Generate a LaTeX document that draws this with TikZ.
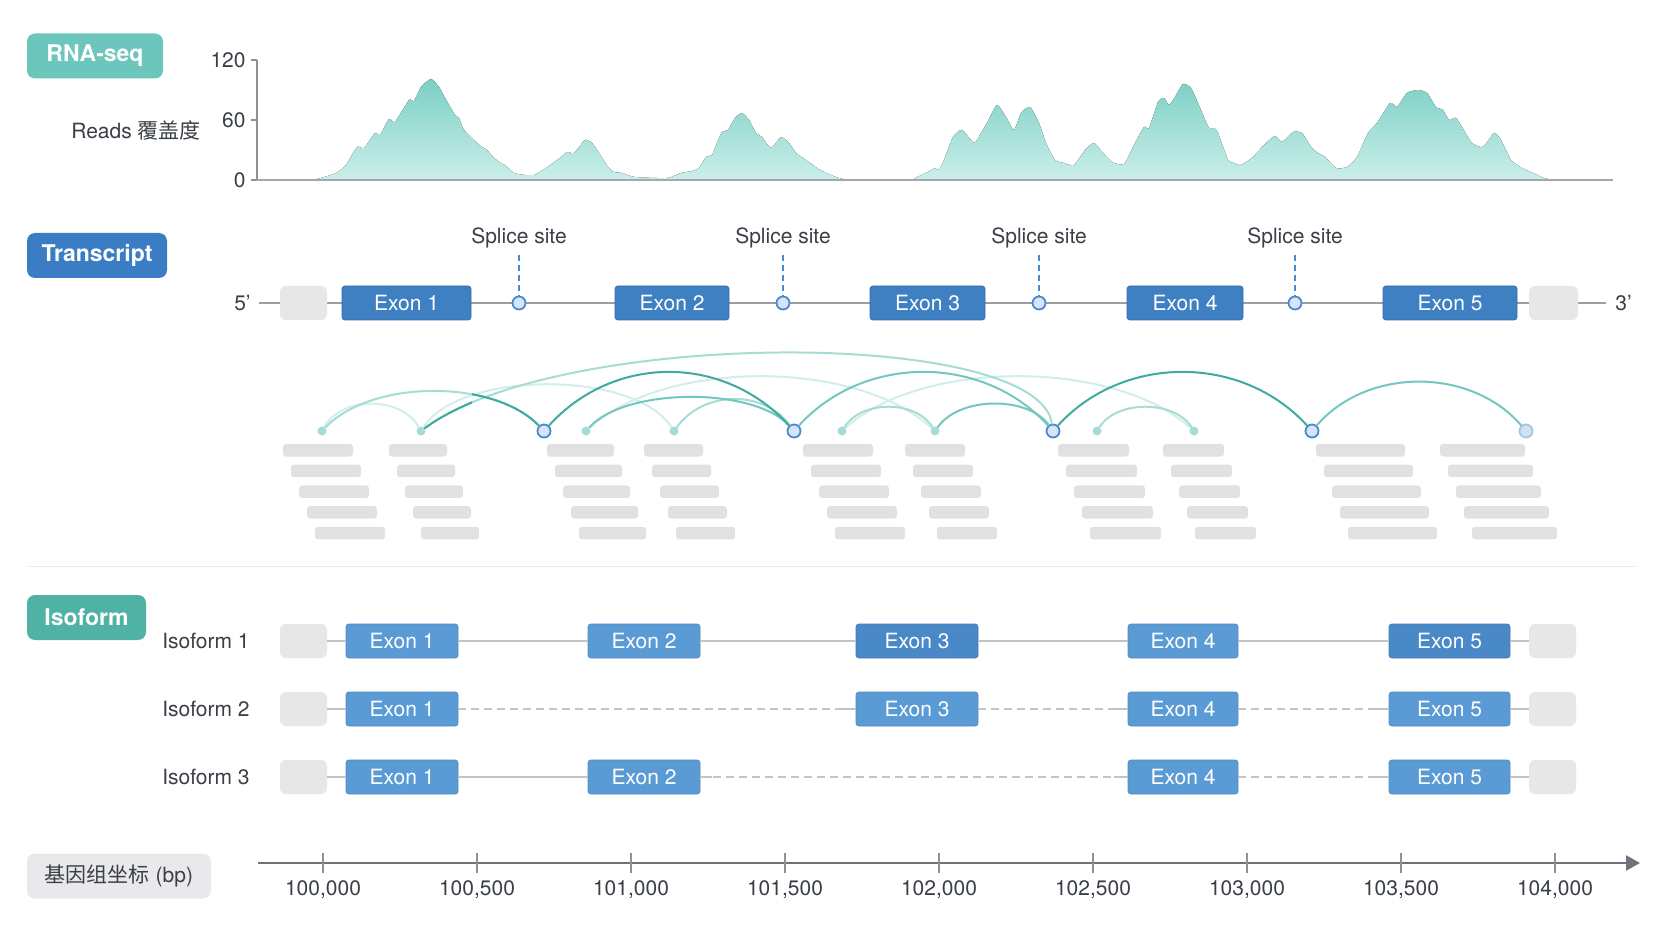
\documentclass[tikz,border=0pt]{standalone}
\usepackage{fontspec}
\setmainfont{TeX Gyre Heros}
\newfontfamily\cjk{Noto Sans CJK SC}
\usetikzlibrary{positioning, calc, arrows.meta}
\definecolor{txtdark}{HTML}{3A3F47}
\definecolor{rnateal}{HTML}{6CC6BB}
\definecolor{isoteal}{HTML}{50B1A5}
\definecolor{trblue}{HTML}{3B7DC4}
\definecolor{exonblue}{HTML}{3F80C2}
\definecolor{exonedge}{HTML}{336FAE}
\definecolor{isoblue}{HTML}{5B9BD5}
\definecolor{isoblueB}{HTML}{4A89C8}
\definecolor{utrgrey}{HTML}{E7E7E8}
\definecolor{linegrey}{HTML}{9C9EA2}
\definecolor{intrgrey}{HTML}{C2C3C5}
\definecolor{readgrey}{HTML}{E1E1E3}
\definecolor{covtop}{HTML}{7CCFC5}
\definecolor{covbot}{HTML}{CBEFEA}
\definecolor{axgrey}{HTML}{8E9196}
\definecolor{jdark}{HTML}{3FAA9E}
\definecolor{jmid}{HTML}{72C8BE}
\definecolor{jlight}{HTML}{A6DCD5}
\definecolor{jfaint}{HTML}{D2EEEA}
\definecolor{siteblue}{HTML}{4A8AD0}
\definecolor{sitefill}{HTML}{D5E5F5}
\definecolor{gaxcol}{HTML}{6E737B}
\definecolor{gboxgrey}{HTML}{E9E9EB}
\tikzset{
  secbox/.style={rounded corners=4pt, text=white, inner sep=0pt, minimum height=22.5pt, font=\bfseries\fontsize{11.5}{13}\selectfont},
  lab/.style={text=txtdark, inner sep=1pt, font=\fontsize{10.5}{12}\selectfont},
  exonT/.style={draw=exonedge, fill=exonblue, line width=0.4pt, rounded corners=1.5pt, minimum height=17pt, inner sep=0pt, text=white, font=\fontsize{10.5}{12}\selectfont},
  exonI/.style={exonT, draw=isoblue!90!black, fill=isoblue},
  exonIB/.style={exonT, draw=isoblueB!90!black, fill=isoblueB},
  utr/.style={fill=utrgrey, rounded corners=3pt, minimum height=17pt, inner sep=0pt},
  backbone/.style={draw=linegrey, line width=1pt},
  intron/.style={draw=intrgrey, line width=1pt},
  skipline/.style={draw=intrgrey, line width=1pt, dash pattern=on 4pt off 2.5pt},
  ssite/.style={circle, draw=siteblue, fill=sitefill, line width=0.9pt, minimum size=6.5pt, inner sep=0pt},
  ssdash/.style={draw=siteblue, line width=0.8pt, dash pattern=on 3pt off 2pt},
  jdot/.style={circle, fill=jlight, minimum size=4.5pt, inner sep=0pt},
  jsite/.style={circle, draw=siteblue, fill=sitefill, line width=0.9pt, minimum size=6.5pt, inner sep=0pt},
  jend/.style={circle, draw=siteblue!50, fill=siteblue!25, line width=0.9pt, minimum size=6.5pt, inner sep=0pt},
  junc/.style={line width=1pt, line cap=round},
  readbar/.style={fill=readgrey, rounded corners=1.5pt}
}
\begin{document}
\begin{tikzpicture}[x=0.5pt, y=-0.5pt]
% sfondo
\fill[white] (0,0) rectangle (1672,941);
\useasboundingbox (0,0) rectangle (1672,941);

% etichette sezioni
\node[secbox, fill=rnateal, minimum width=68pt] (rnaseq) at (95,56) {RNA-seq};
\node[secbox, fill=trblue, minimum width=70pt] (transcr) at (97,255.5) {Transcript};
\node[secbox, fill=isoteal, minimum width=59.5pt] (isoform) at (86.5,617.5) {Isoform};
\node[secbox, fill=gboxgrey, text=txtdark, font=\fontsize{10.5}{12}\selectfont, minimum width=92pt] (gcoord) at (119,876) {{\cjk 基因组坐标} (bp)};

% copertura reads
\fill[top color=covtop, bottom color=covbot] (300,180) -- plot[smooth, tension=0.35] coordinates {(314,179.5) (321,178) (336,173) (346,165) (357,147) (364,148) (375,133) (380,135) (389,119) (395,122) (409,100) (414,101) (421,87) (431,79) (439,87) (445,98) (455,115) (459,118) (464,130) (479,145) (487,150) (493,157) (502,164) (505,165) (514,173) (525,175) (534,175) (543,170) (560,158) (567,152) (574,153) (585,140) (592,143) (599,153) (608,167) (614,172) (622,173) (635,177) (667,178) (681,173) (692,171) (699,168) (706,157) (712,155) (717,143) (722,132) (728,130) (735,118) (742,113) (749,120) (756,133) (762,137) (771,148) (781,137) (789,143) (796,153) (803,158) (810,163) (817,168) (824,172) (831,175) (839,178) (850,179.5) (910,179.5) (917,177) (928,172) (935,168) (939,170) (944,160) (953,137) (962,130) (974,143) (981,133) (987,123) (997,105) (1006,117) (1014,130) (1021,113) (1030,107) (1039,123) (1046,143) (1055,160) (1064,163) (1074,165) (1085,150) (1094,143) (1103,153) (1112,162) (1124,164) (1135,143) (1144,127) (1149,128) (1158,102) (1164,98) (1169,105) (1175,97) (1183,84) (1191,88) (1198,103) (1203,115) (1209,128) (1214,128) (1218,133) (1228,160) (1234,163) (1241,165) (1253,157) (1264,145) (1275,136) (1282,142) (1293,132) (1302,133) (1311,147) (1318,153) (1325,157) (1336,168) (1347,167) (1357,157) (1368,133) (1377,123) (1390,103) (1397,107) (1407,93) (1418,90) (1427,93) (1436,107) (1443,110) (1449,120) (1456,118) (1465,132) (1472,143) (1483,147) (1494,133) (1501,140) (1511,160) (1522,168) (1533,173) (1544,178) (1551,179.5)} -- (1560,180) -- cycle;

% asse y copertura
\draw[axgrey, line width=0.7pt] (257,60) -- (257,180);
\foreach \v/\y in {120/60,60/120,0/180} {
  \draw[axgrey, line width=0.7pt] (251,\y) -- (257,\y);
  \node[lab, anchor=east] (ylab\v) at (248,\y) {\v};
}
\draw[axgrey!80, line width=1pt] (257,180) -- (1613,180);
\node[lab, anchor=east] (ylabel) at (203,130) {Reads {\cjk 覆盖度}};

% trascritto
\coordinate (p5) at (259,303);
\coordinate (p3) at (1606,303);
\draw[backbone] (p5) -- (p3);
\node[lab, anchor=east] (lab5) at (253,303) {5’};
\node[lab, anchor=west] (lab3) at (1613,303) {3’};
\node[utr, minimum width=23.5pt] (tL) at (303.5,303) {};
\node[exonT, minimum width=64.5pt] (t1) at (406.5,303) {Exon 1};
\node[exonT, minimum width=57pt] (t2) at (672,303) {Exon 2};
\node[exonT, minimum width=57.5pt] (t3) at (927.5,303) {Exon 3};
\node[exonT, minimum width=58pt] (t4) at (1185,303) {Exon 4};
\node[exonT, minimum width=67pt] (t5) at (1450,303) {Exon 5};
\node[utr, minimum width=24.5pt] (tR) at (1553.5,303) {};

% siti di splicing
\foreach \s/\x in {1/519,2/783,3/1039,4/1295} {
  \node[ssite] (ss\s) at (\x,303) {};
  \coordinate (sstop\s) at (\x,255);
  \draw[ssdash] (sstop\s) -- (ss\s);
  \node[lab] (sslab\s) at (\x,238) {Splice site};
}

% reads allineati
\foreach \x/\w in {283/70,389/58,547/67,644/59,803/70,905/60,1058/71,1163/61,1316/89,1440/85}
  \foreach \r in {0,...,4}
    \fill[readbar] (\x+8*\r,444+20.7*\r) rectangle +(\w,12.5);

% giunzioni
\foreach \n/\x in {j1/322,j2/421,j3/586,j4/674,j5/842,j6/935,j7/1097,j8/1194}
  \node[jdot] (\n) at (\x,431) {};
\foreach \n/\x in {b1/544,b2/794,b3/1053,b4/1312}
  \node[jsite] (\n) at (\x,431) {};
\node[jend] (b5) at (1526,431) {};
\foreach \a/\b/\p/\q/\k/\c in {j1/j2/20/20/35/jfaint, j2/j4/40/40/61/jfaint, j3/j6/80/80/72/jfaint, j5/j8/80/80/72/jfaint,
    j2/b3/140/15/103/jlight, j1/b1/50/50/52/jlight, j4/b2/30/30/41/jlight, j5/j6/20/20/31/jlight, j7/j8/20/20/31/jlight,
    j3/b2/40/40/44/jmid, b2/b3/70/70/77/jmid, j6/b3/25/25/35/jmid, b4/b5/55/55/64/jmid,
    b1/b2/70/70/77/jdark, b3/b4/70/70/77/jdark}
  \draw[junc, draw=\c] (\a) .. controls +(\p,-\k) and +(-\q,-\k) .. (\b);
% tratti scuri vicino agli incroci
\begin{scope}
  \clip (472,370) rectangle (560,440);
  \draw[junc, draw=jdark] (j1) .. controls +(50,-52) and +(-50,-52) .. (b1);
\end{scope}
\begin{scope}
  \clip (410,370) rectangle (472,440);
  \draw[junc, draw=jdark] (j2) .. controls +(140,-103) and +(-15,-103) .. (b3);
\end{scope}

% separatore
\draw[gray!15, line width=0.5pt] (27,566) -- (1637,566);

% isoform 1
\node[lab, anchor=east] (ilab1) at (252,641) {Isoform 1};
\node[utr, minimum width=23.5pt] (iL1) at (303.5,641) {};
\node[exonI, minimum width=56pt] (i1a) at (402,641) {Exon 1};
\node[exonI, minimum width=56pt] (i1b) at (644,641) {Exon 2};
\node[exonIB, minimum width=61pt] (i1c) at (917,641) {Exon 3};
\node[exonI, minimum width=55pt] (i1d) at (1183,641) {Exon 4};
\node[exonIB, minimum width=60.5pt] (i1e) at (1449.5,641) {Exon 5};
\node[utr, minimum width=23.5pt] (iR1) at (1552.5,641) {};
\draw[intron] (iL1) -- (i1a) -- (i1b) -- (i1c) -- (i1d) -- (i1e) -- (iR1);

% isoform 2
\node[lab, anchor=east] (ilab2) at (252,709) {Isoform 2};
\node[utr, minimum width=23.5pt] (iL2) at (303.5,709) {};
\node[exonI, minimum width=56pt] (i2a) at (402,709) {Exon 1};
\node[exonI, minimum width=61pt] (i2c) at (917,709) {Exon 3};
\node[exonI, minimum width=55pt] (i2d) at (1183,709) {Exon 4};
\node[exonI, minimum width=60.5pt] (i2e) at (1449.5,709) {Exon 5};
\node[utr, minimum width=23.5pt] (iR2) at (1552.5,709) {};
\draw[intron] (iL2) -- (i2a);
\draw[skipline] (i2a) -- (i2c);
\draw[skipline] (i2c) -- (i2d);
\draw[skipline] (i2d) -- (i2e);
\draw[intron] (i2e) -- (iR2);

% isoform 3
\node[lab, anchor=east] (ilab3) at (252,777) {Isoform 3};
\node[utr, minimum width=23.5pt] (iL3) at (303.5,777) {};
\node[exonI, minimum width=56pt] (i3a) at (402,777) {Exon 1};
\node[exonI, minimum width=56pt] (i3b) at (644,777) {Exon 2};
\node[exonI, minimum width=55pt] (i3d) at (1183,777) {Exon 4};
\node[exonI, minimum width=60.5pt] (i3e) at (1449.5,777) {Exon 5};
\node[utr, minimum width=23.5pt] (iR3) at (1552.5,777) {};
\draw[intron] (iL3) -- (i3a) -- (i3b);
\draw[skipline] (i3b) -- (i3d);
\draw[skipline] (i3d) -- (i3e);
\draw[intron] (i3e) -- (iR3);
% brevi tratti pieni vicino agli esoni
\foreach \n in {i2c,i2d,i2e,i3d,i3e}
  \draw[intron] (\n.west) -- +(-14,0);
\draw[intron] (i3b.east) -- +(12,0);

% asse coordinate genomiche
\coordinate (g0) at (258,863);
\coordinate (g1) at (1640,863);
\draw[gaxcol, line width=1.3pt, -{Triangle[length=7pt,width=7.5pt]}] (g0) -- (g1);
\foreach \i/\a/\b in {0/100/000,1/100/500,2/101/000,3/101/500,4/102/000,5/102/500,6/103/000,7/103/500,8/104/000} {
  \draw[axgrey, line width=0.6pt] (323+154*\i,853) -- (323+154*\i,873);
  \node[lab] (gt\i) at (323+154*\i,890) {\a,\b};
}
\end{tikzpicture}
\end{document}
